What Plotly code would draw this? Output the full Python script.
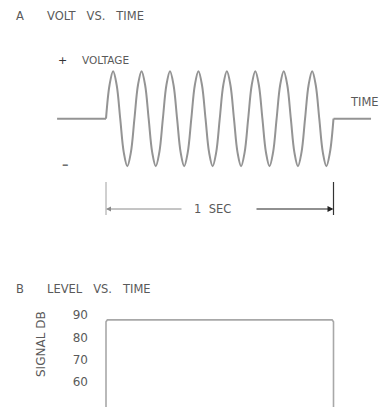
import plotly.graph_objects as go

# ---------------- data ----------------
# Panel A: voltage vs time (8 cycles within 1 second)
wave_time = [0.0, 0.0156, 0.0313, 0.0469, 0.0625, 0.0781, 0.0938, 0.1094,
             0.125, 0.1406, 0.1563, 0.1719, 0.1875, 0.2031, 0.2188, 0.2344,
             0.25, 0.2656, 0.2813, 0.2969, 0.3125, 0.3281, 0.3438, 0.3594,
             0.375, 0.3906, 0.4063, 0.4219, 0.4375, 0.4531, 0.4688, 0.4844,
             0.5, 0.5156, 0.5313, 0.5469, 0.5625, 0.5781, 0.5938, 0.6094,
             0.625, 0.6406, 0.6563, 0.6719, 0.6875, 0.7031, 0.7188, 0.7344,
             0.75, 0.7656, 0.7813, 0.7969, 0.8125, 0.8281, 0.8438, 0.8594,
             0.875, 0.8906, 0.9063, 0.9219, 0.9375, 0.9531, 0.9688, 0.9844,
             1.0]
wave_volt = [0, 0.71, 1, 0.71, 0, -0.71, -1, -0.71,
             0, 0.71, 1, 0.71, 0, -0.71, -1, -0.71,
             0, 0.71, 1, 0.71, 0, -0.71, -1, -0.71,
             0, 0.71, 1, 0.71, 0, -0.71, -1, -0.71,
             0, 0.71, 1, 0.71, 0, -0.71, -1, -0.71,
             0, 0.71, 1, 0.71, 0, -0.71, -1, -0.71,
             0, 0.71, 1, 0.71, 0, -0.71, -1, -0.71,
             0, 0.71, 1, 0.71, 0, -0.71, -1, -0.71,
             0]
pre_time = [-0.215, 0.0]
pre_volt = [0, 0]
post_time = [1.0, 1.165]
post_volt = [0, 0]
span_start, span_end = 0.0, 1.0
span_label = "1\u00a0\u00a0SEC"

# Panel B: level vs time
level_time = [0.0, 0.0, 0.006, 0.994, 1.0, 1.0]
level_db = [30, 87.0, 87.8, 87.8, 87.0, 30]
db_ticks = [60, 70, 80, 90]
db_labels = ["60", "70", "80", "90"]

# ---------------- layout helpers ----------------
W, H = 385, 407
T0_PX, PX_PER_S = 106.0, 227.5
x_range = [(0 - T0_PX) / PX_PER_S, (W - T0_PX) / PX_PER_S]

SPLIT = 250  # px boundary between the two panels
MID_PX, AMP_PX = 118.7, 47.5
y1_range = [(MID_PX - SPLIT) / AMP_PX, MID_PX / AMP_PX]
DB_PX = (382 - 315) / 30.0
y2_range = [90 - (H - 315) / DB_PX, 90 + (315 - SPLIT) / DB_PX]


def vpx(px):  # top panel pixel -> volt units
    return (MID_PX - px) / AMP_PX


def tpx(px):  # pixel -> time units
    return (px - T0_PX) / PX_PER_S


TEXT = "#5a5a5a"
FAM = "DejaVu Sans"
FONT = dict(family=FAM, size=11.5, color=TEXT)
NB = "\u00a0"
GAP = NB * 3


def label(xpx, ypx, text, font=FONT, xanchor="center", **kw):
    return dict(x=xpx / W, y=1 - ypx / H, xref="paper", yref="paper", text=text,
                xanchor=xanchor, yanchor="middle", showarrow=False, font=font, **kw)


fig = go.Figure()

wave_line = dict(color="#949494", width=2)
fig.add_trace(go.Scatter(x=pre_time, y=pre_volt, mode="lines", line=wave_line,
                         xaxis="x", yaxis="y", hoverinfo="skip"))
fig.add_trace(go.Scatter(x=wave_time, y=wave_volt, mode="lines",
                         line=dict(color="#949494", width=2, shape="spline", smoothing=1.0),
                         xaxis="x", yaxis="y", hoverinfo="skip"))
fig.add_trace(go.Scatter(x=post_time, y=post_volt, mode="lines", line=wave_line,
                         xaxis="x", yaxis="y", hoverinfo="skip"))

fig.add_trace(go.Scatter(x=level_time, y=level_db, mode="lines",
                         line=dict(color="#a8a8a8", width=1.6),
                         xaxis="x2", yaxis="y2", hoverinfo="skip"))

dim_y = vpx(209)
shapes = [
    dict(type="line", xref="x", yref="y", x0=span_start, x1=span_start,
         y0=vpx(182), y1=vpx(215), line=dict(color="#a0a0a0", width=1)),
    dict(type="line", xref="x", yref="y", x0=span_end, x1=span_end,
         y0=vpx(182), y1=vpx(215), line=dict(color="#333333", width=1.2)),
]

annotations = [
    dict(x=span_start, y=dim_y, ax=tpx(183), ay=dim_y, xref="x", yref="y",
         axref="x", ayref="y", text="", showarrow=True, arrowhead=2,
         arrowsize=1, arrowwidth=1, arrowcolor="#8a8a8a"),
    dict(x=span_end, y=dim_y, ax=tpx(255), ay=dim_y, xref="x", yref="y",
         axref="x", ayref="y", text="", showarrow=True, arrowhead=2,
         arrowsize=1, arrowwidth=1.2, arrowcolor="#222222"),
    dict(x=tpx(192), y=dim_y, xref="x", yref="y", text=span_label, xanchor="left",
         yanchor="middle", showarrow=False, font=dict(family=FAM, size=11.5, color=TEXT)),
    label(20, 16, "A"),
    label(45, 16, "VOLT" + GAP + "VS." + GAP + "TIME", xanchor="left"),
    label(20, 289, "B"),
    label(45, 289, "LEVEL" + GAP + "VS." + GAP + "TIME", xanchor="left"),
    label(62, 60, "+", font=dict(family=FAM, size=11, color="#333")),
    label(80, 60, "VOLTAGE", font=dict(family=FAM, size=10.5, color=TEXT), xanchor="left"),
    label(65, 164, "<b>\u2013</b>", font=dict(family=FAM, size=13, color="#707070")),
    label(348, 102, "TIME", font=dict(family=FAM, size=11.5, color=TEXT), xanchor="left"),
    label(41, 344, "SIGNAL" + NB + "DB", font=dict(family=FAM, size=12, color=TEXT),
          textangle=-90),
]

fig.update_layout(
    width=W, height=H,
    margin=dict(l=0, r=0, t=0, b=0),
    paper_bgcolor="white", plot_bgcolor="white",
    showlegend=False,
    shapes=shapes,
    annotations=annotations,
    xaxis=dict(domain=[0, 1], range=x_range, visible=False, anchor="y"),
    yaxis=dict(domain=[1 - SPLIT / H, 1], range=y1_range, visible=False, anchor="x"),
    xaxis2=dict(domain=[0, 1], range=x_range, visible=False, anchor="y2"),
    yaxis2=dict(domain=[0, 1 - SPLIT / H], range=y2_range, anchor="free",
                position=88 / W, side="left", showgrid=False, zeroline=False,
                showline=False, ticks="", tickvals=db_ticks, ticktext=db_labels,
                tickfont=dict(family=FAM, size=12, color=TEXT)),
)

fig.write_html("out.html", config={"displayModeBar": False, "staticPlot": True})

# remove the browser's default page margin so the figure sits at (0, 0)
with open("out.html", encoding="utf-8") as f:
    html = f.read()
html = html.replace("<head>", "<head><style>html,body{margin:0;padding:0;overflow:hidden;}</style>", 1)
with open("out.html", "w", encoding="utf-8") as f:
    f.write(html)
